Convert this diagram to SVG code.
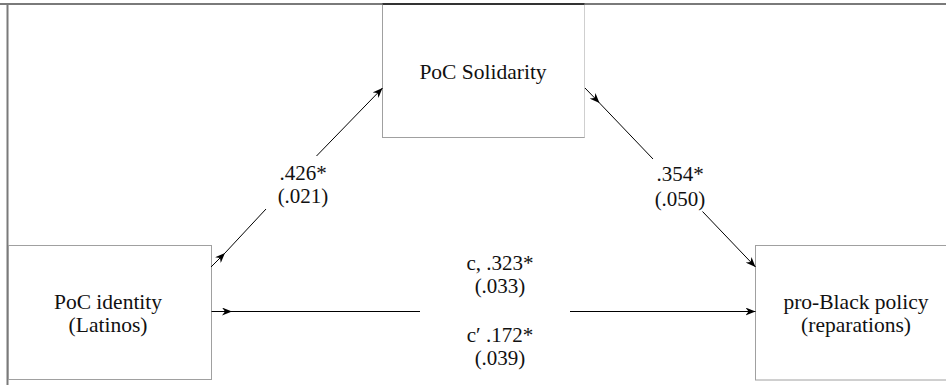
<svg xmlns="http://www.w3.org/2000/svg" width="946" height="385" viewBox="0 0 946 385">
  <defs>
    <marker id="arrow" viewBox="0 0 10 8" refX="10" refY="4" markerWidth="10" markerHeight="8" markerUnits="userSpaceOnUse" orient="auto">
      <path d="M0,0 L10,4 L0,8 L3,4 Z" fill="#000"/>
    </marker>
  </defs>
  <style>
    .frame { stroke: #7a7a7a; stroke-width: 2; fill: none; }
    .box { fill: #fff; stroke: #a0a0a0; stroke-width: 1; }
    .node-text { font-family: "Liberation Serif", "DejaVu Serif", serif; font-size: 21.5px; fill: #111; text-anchor: middle; }
    .label { font-family: "Liberation Serif", "DejaVu Serif", serif; font-size: 21px; fill: #111; text-anchor: middle; }
    .edge { stroke: #000; stroke-width: 1; fill: none; }
    .edge-arrow { stroke: #000; stroke-width: 1; fill: none; marker-end: url(#arrow); }
  </style>

  <rect width="946" height="385" fill="#fff"/>

  <!-- outer frame: top and left rules -->
  <line class="frame" x1="0" y1="4" x2="946" y2="4"/>
  <line class="frame" x1="7.5" y1="3" x2="7.5" y2="385"/>

  <g id="node-solidarity">
    <rect class="box" x="382.5" y="4.5" width="202" height="133"/>
    <line x1="382.5" y1="4" x2="584.5" y2="4" stroke="#333" stroke-width="2"/>
    <line x1="584.5" y1="5" x2="584.5" y2="137.5" stroke="#cfcfcf" stroke-width="1"/>
    <text class="node-text" x="483" y="79">PoC Solidarity</text>
  </g>

  <g id="node-identity">
    <rect class="box" x="8.5" y="245.5" width="203" height="134"/>
    <text class="node-text" x="108" y="308.5">PoC identity</text>
    <text class="node-text" x="108" y="332">(Latinos)</text>
  </g>

  <g id="node-policy">
    <rect class="box" x="755.5" y="245.5" width="200" height="134.5"/>
    <text class="node-text" x="856" y="308.5">pro-Black policy</text>
    <text class="node-text" x="856" y="332">(reparations)</text>
  </g>

  <g id="connectors">
    <!-- identity -> solidarity (a path) -->
    <line class="edge-arrow" x1="211" y1="267" x2="225" y2="253"/>
    <line class="edge" x1="225" y1="253" x2="266" y2="209"/>
    <line class="edge-arrow" x1="316.5" y1="156" x2="382.5" y2="88"/>
    <!-- solidarity -> policy (b path) -->
    <line class="edge-arrow" x1="585" y1="88" x2="599.5" y2="103"/>
    <line class="edge" x1="599.5" y1="103" x2="653" y2="159"/>
    <line class="edge-arrow" x1="702.5" y1="211.5" x2="755.5" y2="267"/>
    <!-- identity -> policy (c / c' path) -->
    <line class="edge-arrow" x1="211.5" y1="311.5" x2="232" y2="311.5"/>
    <line class="edge" x1="232" y1="311.5" x2="420" y2="311.5"/>
    <line class="edge-arrow" x1="570" y1="311.5" x2="755.5" y2="311.5"/>
  </g>

  <g id="labels">
    <text class="label" x="303" y="180">.426*</text>
    <text class="label" x="303" y="203">(.021)</text>
    <text class="label" x="680" y="181">.354*</text>
    <text class="label" x="680" y="206">(.050)</text>
    <text class="label" x="500" y="269.5">c, .323*</text>
    <text class="label" x="500" y="292.5">(.033)</text>
    <text class="label" x="500" y="342">c′ .172*</text>
    <text class="label" x="500" y="365">(.039)</text>
  </g>
</svg>
